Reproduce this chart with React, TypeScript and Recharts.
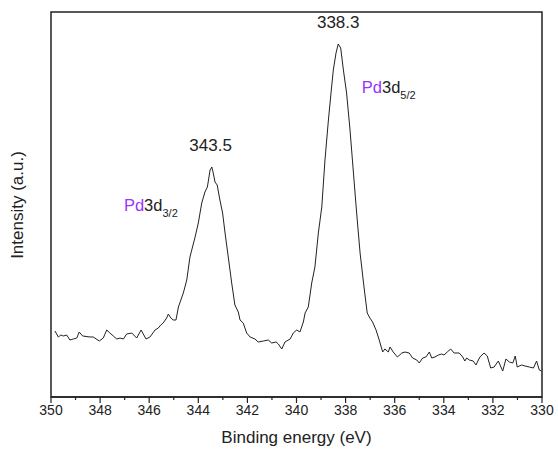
import React from 'react'
import { LineChart, Line, XAxis, YAxis, ReferenceArea, ReferenceDot } from 'recharts'

// binding energy (eV) and intensity (a.u.)
const energy = [
  349.84, 349.7, 349.6, 349.5, 349.36, 349.23, 349.09, 348.95, 348.85, 348.71,
  348.41, 348.28, 348.03, 347.87, 347.73, 347.6, 347.46, 347.32, 347.19, 347.05,
  346.92, 346.71, 346.51, 346.33, 346.13, 345.97, 345.76, 345.63, 345.53, 345.43,
  345.29, 345.22, 345.12, 345.02, 344.91, 344.81, 344.61, 344.47, 344.34, 344.13,
  344.0, 343.86, 343.73, 343.63, 343.52, 343.45, 343.39, 343.32, 343.23, 343.12,
  343.01, 342.91, 342.78, 342.64, 342.51, 342.37, 342.3, 342.17, 342.03, 341.89,
  341.69, 341.56, 341.35, 341.15, 341.01, 340.83, 340.74, 340.6, 340.47, 340.26,
  340.13, 339.99, 339.86, 339.72, 339.65, 339.52, 339.38, 339.25, 339.11, 338.97,
  338.84, 338.7, 338.57, 338.5, 338.39, 338.3, 338.2, 338.09, 337.96, 337.82,
  337.69, 337.55, 337.41, 337.25, 337.12, 337.01, 336.9, 336.76, 336.63, 336.49,
  336.4, 336.26, 336.19, 336.06, 335.89, 335.71, 335.58, 335.41, 335.27, 335.1,
  335.0, 334.86, 334.73, 334.59, 334.49, 334.36, 334.22, 334.09, 333.99, 333.86,
  333.72, 333.58, 333.37, 333.23, 333.14, 333.07, 332.96, 332.8, 332.69, 332.53,
  332.36, 332.23, 332.09, 331.95, 331.78, 331.6, 331.47, 331.33, 331.19, 331.09,
  331.01, 330.83, 330.69, 330.52, 330.35, 330.22, 330.11, 330.03,
]
const intensity = [
  66, 60, 62, 61, 62, 57, 58, 59, 65, 61,
  60, 60, 56, 59, 67, 64, 61, 58, 59, 58,
  63, 64, 59, 67, 58, 60, 67, 69, 72, 74,
  79, 83, 79, 77, 77, 90, 104, 117, 140, 160,
  174, 194, 205, 210, 227, 230, 224, 215, 212, 197,
  184, 164, 140, 114, 92, 85, 77, 74, 64, 60,
  58, 55, 56, 57, 54, 55, 53, 48, 55, 58,
  64, 67, 65, 75, 84, 90, 114, 130, 164, 190,
  237, 277, 310, 327, 344, 353, 349, 327, 304, 267,
  227, 184, 144, 110, 84, 79, 75, 67, 57, 45,
  48, 45, 50, 45, 40, 44, 45, 44, 39, 37,
  34, 39, 40, 45, 39, 40, 42, 43, 42, 45,
  48, 44, 44, 40, 36, 39, 37, 36, 32, 40,
  44, 41, 29, 30, 36, 26, 38, 35, 34, 41,
  30, 32, 31, 30, 29, 36, 27, 26,
]

const xTicks = [350, 349, 348, 347, 346, 345, 344, 343, 342, 341, 340, 339, 338, 337, 336, 335, 334, 333, 332, 331, 330]

// peak labels: [energy, intensity, text]
const peaks: [number, number, string][] = [
  [343.5, 230, '343.5'],
  [338.3, 353, '338.3'],
]
// orbital labels: [energy, intensity, subscript]
const orbitals: [number, number, string][] = [
  [347.03, 186, '3/2'],
  [337.34, 304, '5/2'],
]

const data = energy.map((e, i) => ({ e, v: intensity[i] }))

const FONT = '"Liberation Sans", Arial, sans-serif'
const INK = '#222'
const PURPLE = '#9932ff'

const XTick = (props: any) => {
  const { x, y, payload } = props
  const major = payload.value % 2 === 0
  return (
    <g>
      <line x1={x} x2={x} y1={y - 8} y2={y - 8 + (major ? 6 : 3)} stroke={INK} strokeWidth={1.2} />
      {major && (
        <text x={x} y={y} dy="0.71em" textAnchor="middle" fontSize={14} fontFamily={FONT} fill={INK}>
          {payload.value}
        </text>
      )}
    </g>
  )
}

const PeakLabel = (text: string) => (props: any) => {
  const { viewBox } = props
  return (
    <text x={viewBox.x} y={viewBox.y - 16} textAnchor="middle" fontSize={17} fontFamily={FONT} fill={INK}>
      {text}
    </text>
  )
}

const OrbitalLabel = (sub: string) => (props: any) => {
  const { viewBox } = props
  return (
    <text x={viewBox.x} y={viewBox.y} fontSize={16.5} fontFamily={FONT} fill={INK}>
      <tspan fill={PURPLE}>Pd</tspan>
      <tspan>3d</tspan>
      <tspan fontSize={11} dy={6}>{sub}</tspan>
    </text>
  )
}

export default function App() {
  return (
    <div style={{ position: 'absolute', left: 0, top: 0, background: '#fff' }}>
      <LineChart width={558} height={456} data={data} margin={{ top: 12, right: 16, left: 51, bottom: 0 }}>
        <XAxis
          dataKey="e"
          type="number"
          domain={[330, 350]}
          reversed
          ticks={xTicks}
          interval={0}
          height={59}
          tickSize={6}
          tickMargin={2}
          tickLine={false}
          tick={<XTick />}
          stroke={INK}
          strokeWidth={1.5}
          label={{ value: 'Binding energy (eV)', position: 'insideBottom', offset: 13, fontSize: 17, fontFamily: FONT, fill: INK }}
        />
        <YAxis hide domain={[0, 385]} />
        <ReferenceArea x1={350} x2={330} y1={0} y2={385} fill="none" stroke={INK} strokeWidth={1.5} fillOpacity={0} />
        <Line dataKey="v" type="linear" stroke={INK} strokeWidth={1} dot={false} isAnimationActive={false} />
        {peaks.map(([e, v, t]) => (
          <ReferenceDot key={t} x={e} y={v} r={0} stroke="none" fill="none" label={PeakLabel(t)} />
        ))}
        {orbitals.map(([e, v, s]) => (
          <ReferenceDot key={s} x={e} y={v} r={0} stroke="none" fill="none" label={OrbitalLabel(s)} />
        ))}
        <text
          transform="translate(17,205) rotate(-90)"
          textAnchor="middle"
          dominantBaseline="central"
          fontSize={17}
          fontFamily={FONT}
          fill={INK}
        >
          Intensity (a.u.)
        </text>
      </LineChart>
    </div>
  )
}
